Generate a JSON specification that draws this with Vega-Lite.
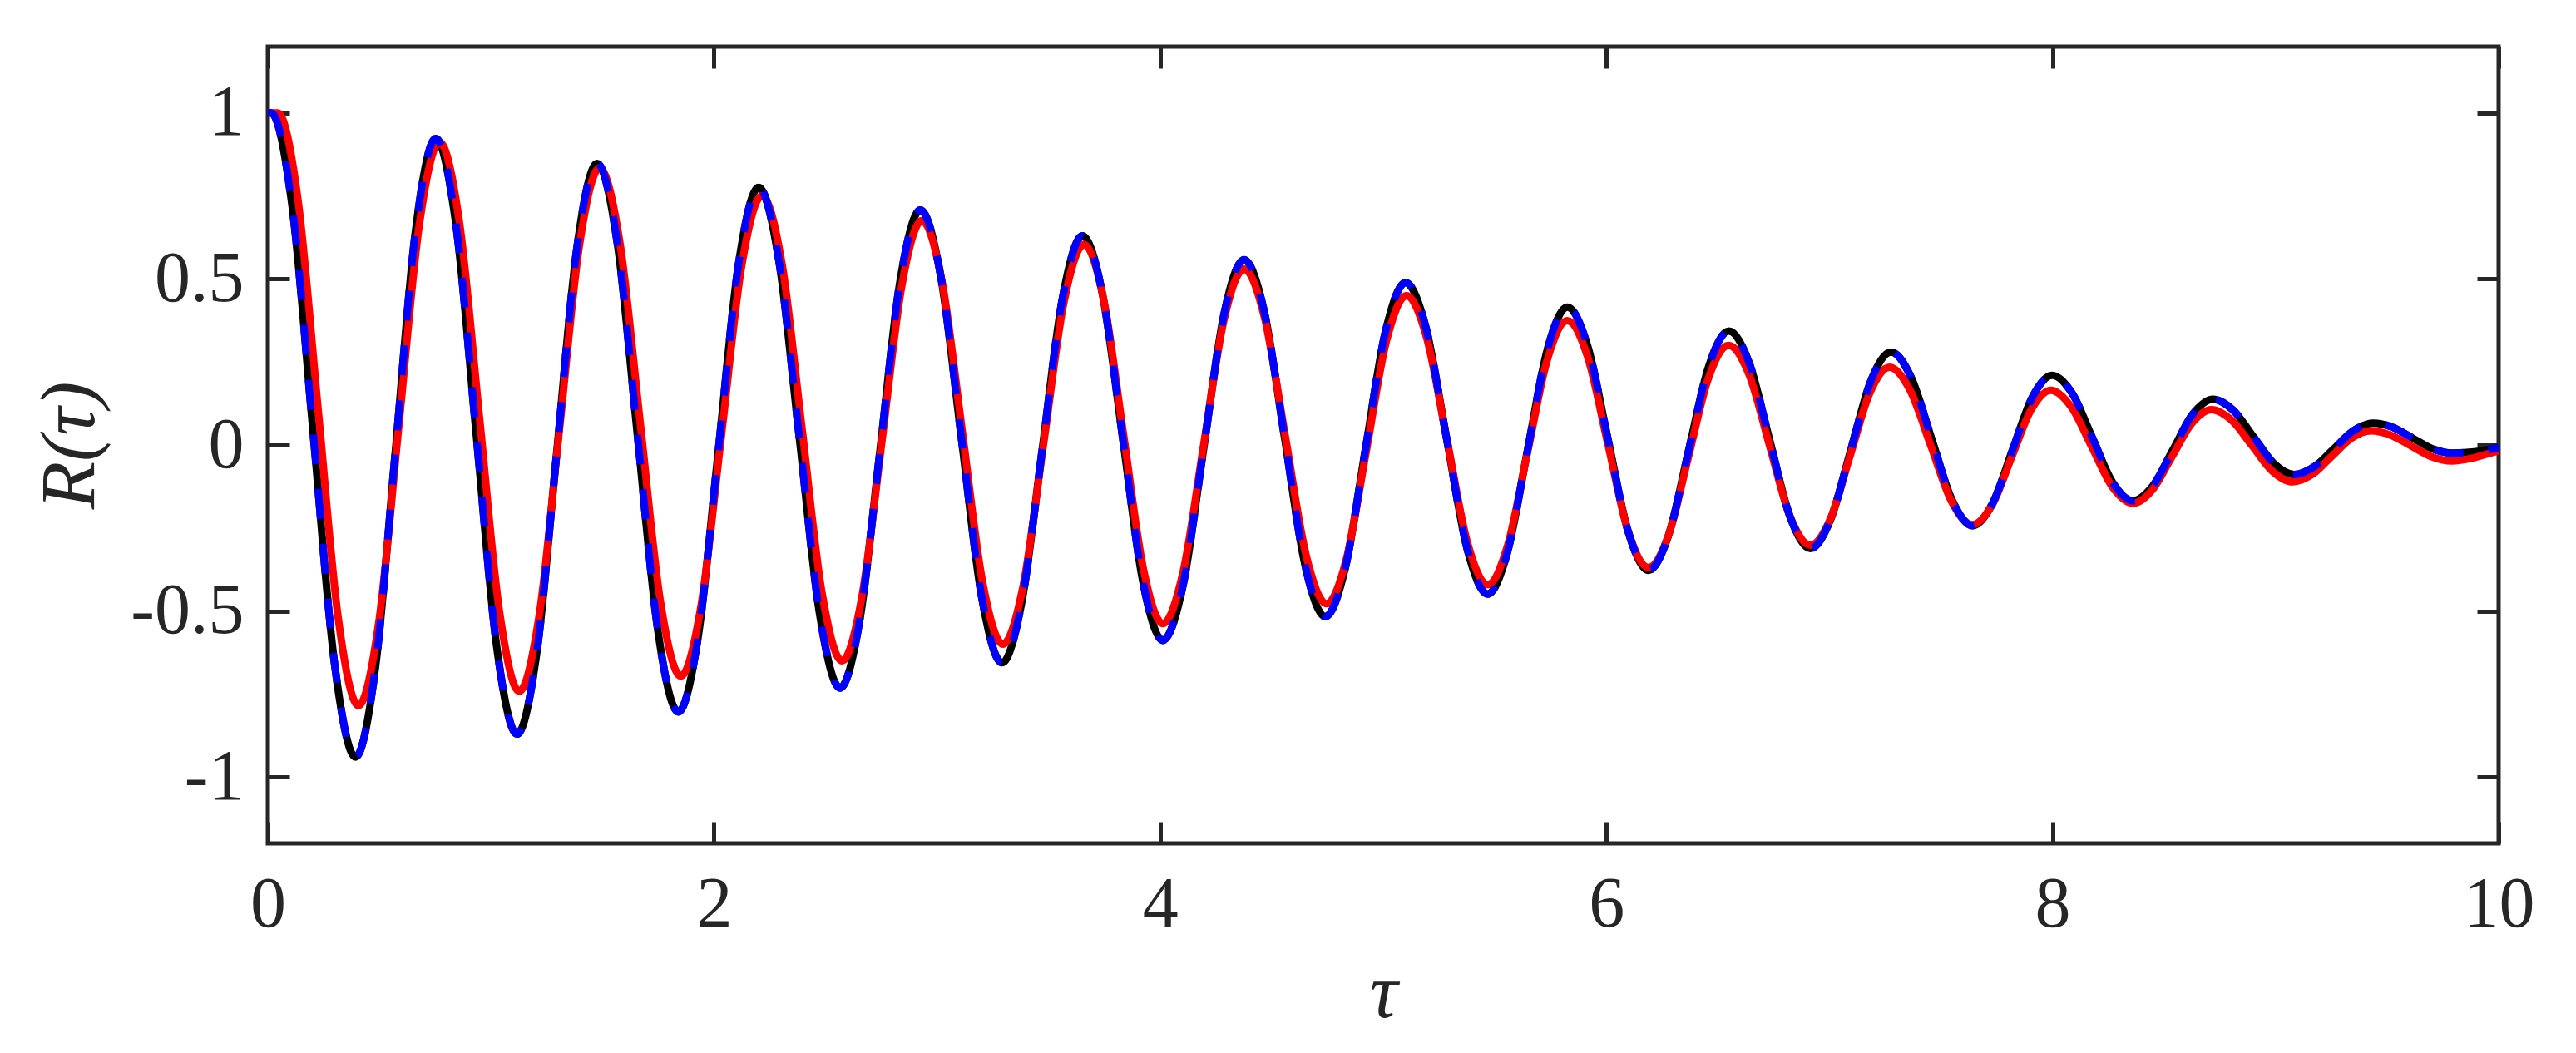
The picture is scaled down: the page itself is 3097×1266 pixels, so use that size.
{
  "$schema": "https://vega.github.io/schema/vega-lite/v6.json",
  "width": 2682,
  "height": 958,
  "autosize": {"type": "none"},
  "padding": {"left": 322, "top": 56, "right": 93, "bottom": 252},
  "background": "white",
  "config": {
    "view": {"stroke": "#262626", "strokeWidth": 5},
    "axis": {
      "domain": false,
      "grid": false,
      "tickColor": "#262626",
      "tickWidth": 5,
      "tickSize": -26,
      "labelColor": "#262626",
      "labelFont": "Liberation Serif",
      "labelFontSize": 86,
      "labelFlush": false,
      "labelOverlap": false,
      "titleFont": "Liberation Serif",
      "titleFontSize": 94,
      "titleColor": "#262626",
      "titleFontWeight": "normal",
      "titleFontStyle": "italic"
    }
  },
  "data": {
    "values": [
      {"s":"k","t":0,"v":1},{"s":"k","t":0.015,"v":1},{"s":"k","t":0.1095,"v":0.716},{"s":"k","t":0.204,"v":0.03},{"s":"k","t":0.2985,"v":-0.656},{"s":"k","t":0.393,"v":-0.94},
      {"s":"k","t":0.483,"v":-0.667},{"s":"k","t":0.573,"v":-0.009},{"s":"k","t":0.663,"v":0.65},{"s":"k","t":0.753,"v":0.923},
      {"s":"k","t":0.844,"v":0.66},{"s":"k","t":0.935,"v":0.026},{"s":"k","t":1.026,"v":-0.608},{"s":"k","t":1.117,"v":-0.871},
      {"s":"k","t":1.207,"v":-0.619},{"s":"k","t":1.2965,"v":-0.012},{"s":"k","t":1.386,"v":0.596},{"s":"k","t":1.476,"v":0.848},
      {"s":"k","t":1.567,"v":0.606},{"s":"k","t":1.658,"v":0.022},{"s":"k","t":1.749,"v":-0.562},{"s":"k","t":1.84,"v":-0.804},
      {"s":"k","t":1.93,"v":-0.573},{"s":"k","t":2.02,"v":-0.014},{"s":"k","t":2.11,"v":0.545},{"s":"k","t":2.2,"v":0.776},
      {"s":"k","t":2.291,"v":0.555},{"s":"k","t":2.3825,"v":0.022},{"s":"k","t":2.474,"v":-0.511},{"s":"k","t":2.565,"v":-0.732},
      {"s":"k","t":2.655,"v":-0.521},{"s":"k","t":2.745,"v":-0.012},{"s":"k","t":2.835,"v":0.497},{"s":"k","t":2.925,"v":0.7075},
      {"s":"k","t":3.0165,"v":0.508},{"s":"k","t":3.108,"v":0.026},{"s":"k","t":3.1995,"v":-0.456},{"s":"k","t":3.291,"v":-0.656},
      {"s":"k","t":3.381,"v":-0.468},{"s":"k","t":3.4715,"v":-0.013},{"s":"k","t":3.562,"v":0.442},{"s":"k","t":3.652,"v":0.63},
      {"s":"k","t":3.742,"v":0.452},{"s":"k","t":3.832,"v":0.021},{"s":"k","t":3.922,"v":-0.41},{"s":"k","t":4.012,"v":-0.5885},
      {"s":"k","t":4.103,"v":-0.421},{"s":"k","t":4.194,"v":-0.015},{"s":"k","t":4.285,"v":0.39},{"s":"k","t":4.376,"v":0.558},
      {"s":"k","t":4.467,"v":0.401},{"s":"k","t":4.558,"v":0.021},{"s":"k","t":4.649,"v":-0.36},{"s":"k","t":4.74,"v":-0.517},
      {"s":"k","t":4.83,"v":-0.37},{"s":"k","t":4.92,"v":-0.014},{"s":"k","t":5.01,"v":0.342},{"s":"k","t":5.1,"v":0.489},
      {"s":"k","t":5.192,"v":0.352},{"s":"k","t":5.284,"v":0.02},{"s":"k","t":5.376,"v":-0.312},{"s":"k","t":5.468,"v":-0.449},
      {"s":"k","t":5.557,"v":-0.3225},{"s":"k","t":5.6465,"v":-0.017},{"s":"k","t":5.736,"v":0.2885},{"s":"k","t":5.825,"v":0.415},
      {"s":"k","t":5.916,"v":0.299},{"s":"k","t":6.007,"v":0.019},{"s":"k","t":6.098,"v":-0.261},{"s":"k","t":6.189,"v":-0.3775},
      {"s":"k","t":6.279,"v":-0.272},{"s":"k","t":6.369,"v":-0.017},{"s":"k","t":6.459,"v":0.237},{"s":"k","t":6.549,"v":0.343},
      {"s":"k","t":6.6405,"v":0.247},{"s":"k","t":6.732,"v":0.0155},{"s":"k","t":6.8235,"v":-0.216},{"s":"k","t":6.915,"v":-0.312},
      {"s":"k","t":7.005,"v":-0.225},{"s":"k","t":7.0955,"v":-0.016},{"s":"k","t":7.186,"v":0.193},{"s":"k","t":7.276,"v":0.28},
      {"s":"k","t":7.367,"v":0.203},{"s":"k","t":7.4585,"v":0.0185},{"s":"k","t":7.55,"v":-0.166},{"s":"k","t":7.641,"v":-0.243},
      {"s":"k","t":7.7305,"v":-0.177},{"s":"k","t":7.82,"v":-0.0165},{"s":"k","t":7.9095,"v":0.144},{"s":"k","t":7.999,"v":0.21},
      {"s":"k","t":8.089,"v":0.155},{"s":"k","t":8.1795,"v":0.021},{"s":"k","t":8.27,"v":-0.113},{"s":"k","t":8.36,"v":-0.168},
      {"s":"k","t":8.45,"v":-0.123},{"s":"k","t":8.5395,"v":-0.015},{"s":"k","t":8.629,"v":0.093},{"s":"k","t":8.719,"v":0.138},
      {"s":"k","t":8.81,"v":0.105},{"s":"k","t":8.9015,"v":0.0245},{"s":"k","t":8.993,"v":-0.056},{"s":"k","t":9.084,"v":-0.089},
      {"s":"k","t":9.1725,"v":-0.066},{"s":"k","t":9.261,"v":-0.0115},{"s":"k","t":9.3495,"v":0.043},{"s":"k","t":9.438,"v":0.066},
      {"s":"k","t":9.526,"v":0.053},{"s":"k","t":9.614,"v":0.021},{"s":"k","t":9.702,"v":-0.011},{"s":"k","t":9.79,"v":-0.0245},
      {"s":"k","t":9.88,"v":-0.021},{"s":"k","t":9.97,"v":-0.012},{"s":"k","t":10,"v":-0.009},

      {"s":"r","t":0,"v":1},{"s":"r","t":0.045,"v":1},{"s":"r","t":0.135,"v":0.739},{"s":"r","t":0.2255,"v":0.1075},{"s":"r","t":0.316,"v":-0.524},{"s":"r","t":0.406,"v":-0.785},
      {"s":"r","t":0.497,"v":-0.5365},{"s":"r","t":0.588,"v":0.0635},{"s":"r","t":0.679,"v":0.6635},{"s":"r","t":0.77,"v":0.912},
      {"s":"r","t":0.859,"v":0.67},{"s":"r","t":0.9485,"v":0.085},{"s":"r","t":1.038,"v":-0.5},{"s":"r","t":1.127,"v":-0.742},
      {"s":"r","t":1.217,"v":-0.511},{"s":"r","t":1.307,"v":0.046},{"s":"r","t":1.397,"v":0.603},{"s":"r","t":1.487,"v":0.834},
      {"s":"r","t":1.578,"v":0.61},{"s":"r","t":1.669,"v":0.069},{"s":"r","t":1.76,"v":-0.472},{"s":"r","t":1.851,"v":-0.696},
      {"s":"r","t":1.942,"v":-0.484},{"s":"r","t":2.033,"v":0.027},{"s":"r","t":2.124,"v":0.539},{"s":"r","t":2.215,"v":0.7505},
      {"s":"r","t":2.305,"v":0.545},{"s":"r","t":2.3945,"v":0.05},{"s":"r","t":2.484,"v":-0.445},{"s":"r","t":2.574,"v":-0.65},
      {"s":"r","t":2.6635,"v":-0.456},{"s":"r","t":2.753,"v":0.013},{"s":"r","t":2.8425,"v":0.482},{"s":"r","t":2.932,"v":0.676},
      {"s":"r","t":3.023,"v":0.489},{"s":"r","t":3.1135,"v":0.038},{"s":"r","t":3.204,"v":-0.413},{"s":"r","t":3.295,"v":-0.6},
      {"s":"r","t":3.386,"v":-0.424},{"s":"r","t":3.477,"v":0.002},{"s":"r","t":3.568,"v":0.428},{"s":"r","t":3.659,"v":0.604},
      {"s":"r","t":3.747,"v":0.437},{"s":"r","t":3.8355,"v":0.033},{"s":"r","t":3.924,"v":-0.371},{"s":"r","t":4.012,"v":-0.538},
      {"s":"r","t":4.103,"v":-0.382},{"s":"r","t":4.194,"v":-0.004},{"s":"r","t":4.285,"v":0.374},{"s":"r","t":4.376,"v":0.53},
      {"s":"r","t":4.4685,"v":0.382},{"s":"r","t":4.561,"v":0.026},{"s":"r","t":4.6535,"v":-0.33},{"s":"r","t":4.746,"v":-0.478},
      {"s":"r","t":4.8355,"v":-0.342},{"s":"r","t":4.925,"v":-0.014},{"s":"r","t":5.0145,"v":0.314},{"s":"r","t":5.104,"v":0.45},
      {"s":"r","t":5.195,"v":0.3225},{"s":"r","t":5.286,"v":0.015},{"s":"r","t":5.377,"v":-0.293},{"s":"r","t":5.468,"v":-0.4205},
      {"s":"r","t":5.557,"v":-0.304},{"s":"r","t":5.6465,"v":-0.023},{"s":"r","t":5.736,"v":0.258},{"s":"r","t":5.825,"v":0.3745},
      {"s":"r","t":5.916,"v":0.266},{"s":"r","t":6.007,"v":0.003},{"s":"r","t":6.098,"v":-0.26},{"s":"r","t":6.189,"v":-0.369},
      {"s":"r","t":6.279,"v":-0.271},{"s":"r","t":6.3685,"v":-0.0345},{"s":"r","t":6.458,"v":0.202},{"s":"r","t":6.548,"v":0.3},
      {"s":"r","t":6.64,"v":0.212},{"s":"r","t":6.7315,"v":-0.001},{"s":"r","t":6.823,"v":-0.214},{"s":"r","t":6.915,"v":-0.302},
      {"s":"r","t":7.0035,"v":-0.2235},{"s":"r","t":7.092,"v":-0.034},{"s":"r","t":7.1805,"v":0.1555},{"s":"r","t":7.269,"v":0.234},
      {"s":"r","t":7.362,"v":0.1646},{"s":"r","t":7.455,"v":-0.003},{"s":"r","t":7.548,"v":-0.1706},{"s":"r","t":7.641,"v":-0.24},
      {"s":"r","t":7.729,"v":-0.181},{"s":"r","t":7.8165,"v":-0.0375},{"s":"r","t":7.904,"v":0.106},{"s":"r","t":7.992,"v":0.165},
      {"s":"r","t":8.084,"v":0.115},{"s":"r","t":8.176,"v":-0.0055},{"s":"r","t":8.268,"v":-0.126},{"s":"r","t":8.36,"v":-0.176},
      {"s":"r","t":8.448,"v":-0.135},{"s":"r","t":8.536,"v":-0.035},{"s":"r","t":8.624,"v":0.065},{"s":"r","t":8.712,"v":0.1065},
      {"s":"r","t":8.803,"v":0.0746},{"s":"r","t":8.8945,"v":-0.002},{"s":"r","t":8.986,"v":-0.079},{"s":"r","t":9.077,"v":-0.111},
      {"s":"r","t":9.1645,"v":-0.0885},{"s":"r","t":9.252,"v":-0.034},{"s":"r","t":9.3395,"v":0.02},{"s":"r","t":9.427,"v":0.0425},
      {"s":"r","t":9.518,"v":0.029},{"s":"r","t":9.6085,"v":-0.003},{"s":"r","t":9.699,"v":-0.035},{"s":"r","t":9.79,"v":-0.0485},
      {"s":"r","t":9.88,"v":-0.04},{"s":"r","t":9.95,"v":-0.027},{"s":"r","t":10,"v":-0.018}
    ]
  },
  "layer": [
    {
      "transform": [{"filter": "datum.s == 'k'"}],
      "mark": {"type": "line", "color": "#000000", "strokeWidth": 9, "interpolate": "monotone", "clip": true},
      "encoding": {
        "x": {"field": "t", "type": "quantitative", "scale": {"domain": [0, 10], "nice": false},
              "axis": {"orient": "bottom", "values": [0, 2, 4, 6, 8, 10], "format": "d", "title": "τ", "labelPadding": 57, "titlePadding": 18}},
        "y": {"field": "v", "type": "quantitative", "scale": {"domain": [-1.2, 1.2], "nice": false, "zero": false},
              "axis": {"orient": "left", "values": [-1, -0.5, 0, 0.5, 1], "format": "~g", "labelExpr": "replace(datum.label, '−', '-')", "title": "R(τ)", "labelPadding": 55, "titlePadding": 24}}
      }
    },
    {
      "transform": [{"filter": "datum.s == 'r'"}],
      "mark": {"type": "line", "color": "#FF0000", "strokeWidth": 9, "interpolate": "monotone", "clip": true},
      "encoding": {
        "x": {"field": "t", "type": "quantitative", "scale": {"domain": [0, 10], "nice": false},
              "axis": {"orient": "top", "values": [0, 2, 4, 6, 8, 10], "labels": false, "title": null}},
        "y": {"field": "v", "type": "quantitative", "scale": {"domain": [-1.2, 1.2], "nice": false, "zero": false},
              "axis": {"orient": "right", "values": [-1, -0.5, 0, 0.5, 1], "labels": false, "title": null}}
      }
    },
    {
      "transform": [{"filter": "datum.s == 'k'"}],
      "mark": {"type": "line", "color": "#0000FF", "strokeWidth": 9, "strokeDash": [36, 30], "interpolate": "monotone", "clip": true},
      "encoding": {
        "x": {"field": "t", "type": "quantitative", "scale": {"domain": [0, 10], "nice": false}, "axis": null},
        "y": {"field": "v", "type": "quantitative", "scale": {"domain": [-1.2, 1.2], "nice": false, "zero": false}, "axis": null}
      }
    }
  ],
  "resolve": {"axis": {"x": "independent", "y": "independent"}}
}
